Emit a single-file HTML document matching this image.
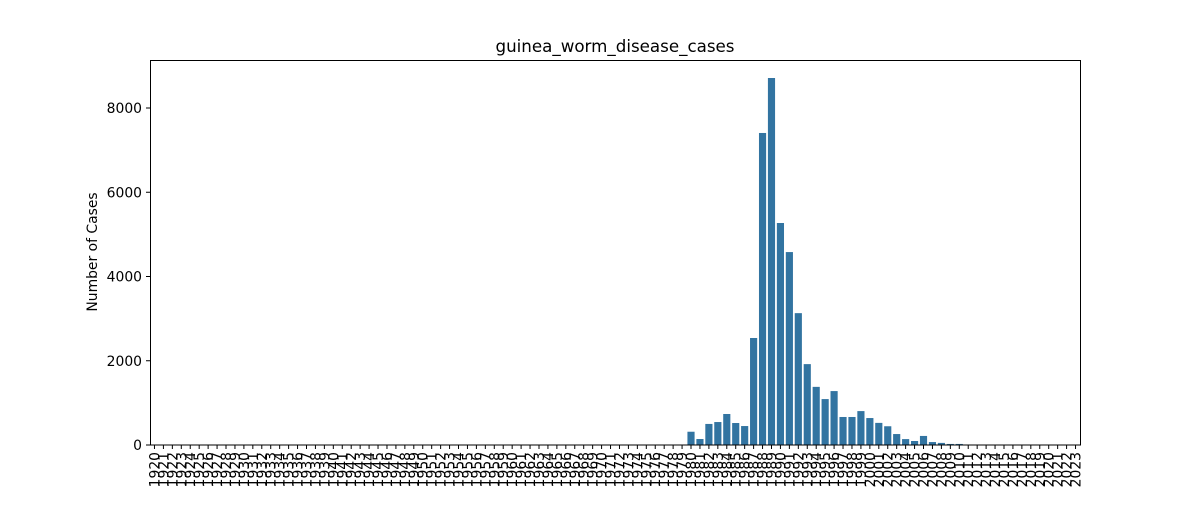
<!DOCTYPE html>
<html><head><meta charset="utf-8"><style>
body{margin:0;background:#fff;}
svg text{font-family:"DejaVu Sans","Liberation Sans",sans-serif;fill:#000;}
</style></head><body>
<svg id="chart" width="1200" height="500">
<text x="615" y="52" font-size="16.7" text-anchor="middle">guinea_worm_disease_cases</text>
<text transform="translate(97,252) rotate(-90)" font-size="13.9" text-anchor="middle">Number of Cases</text>
<g id="bars"></g><g id="axes"></g>
<rect x="150.5" y="60.5" width="930" height="384.5" fill="none" stroke="#000" stroke-width="1"/>
</svg>
<script>
const years = [];
for (let y = 1920; y <= 2023; y++) years.push(y);
const dataYears = [1980,1981,1982,1983,1984,1985,1986,1987,1988,1989,1990,1991,1992,1993,1994,1995,1996,1997,1998,1999,2000,2001,2002,2003,2004,2005,2006,2007,2008,2009,2010];
const cases = [315,142,500,545,736,522,450,2540,7407,8712,5270,4580,3130,1920,1380,1090,1280,665,665,805,640,525,445,260,140,95,215,70,50,25,25];
const yTicks = [0,2000,4000,6000,8000];
const NS='http://www.w3.org/2000/svg';
const L=150,R=1080,B=445,step=(R-L)/years.length;
const xC=i=>L+(i+0.5)*step;
const yS=v=>B-v*337/8000;
const bars=document.getElementById('bars'),axes=document.getElementById('axes');
dataYears.forEach((yr,k)=>{
  const i=years.indexOf(yr);
  const r=document.createElementNS(NS,'rect');
  r.setAttribute('x',xC(i)-step*0.4);r.setAttribute('width',step*0.8);
  r.setAttribute('y',yS(cases[k]));r.setAttribute('height',B-yS(cases[k]));
  r.setAttribute('fill','#3274a1');
  
  
  bars.appendChild(r);
});
yTicks.forEach(v=>{
  const l=document.createElementNS(NS,'line');
  l.setAttribute('x1',146);l.setAttribute('x2',150);l.setAttribute('y1',yS(v));l.setAttribute('y2',yS(v));l.setAttribute('stroke','#000');
  
  
  axes.appendChild(l);
  const t=document.createElementNS(NS,'text');
  t.setAttribute('x',142);t.setAttribute('y',yS(v)+5);t.setAttribute('font-size','13.9');t.setAttribute('text-anchor','end');
  t.textContent=v;
  
  
  axes.appendChild(t);
});
years.forEach((yr,i)=>{
  const x=xC(i);
  const l=document.createElementNS(NS,'line');
  l.setAttribute('x1',x);l.setAttribute('x2',x);l.setAttribute('y1',445);l.setAttribute('y2',449);l.setAttribute('stroke','#000');
  
  
  axes.appendChild(l);
  const t=document.createElementNS(NS,'text');
  t.setAttribute('transform','translate('+(x+5)+',452) rotate(-90)');
  t.setAttribute('font-size','13.9');t.setAttribute('text-anchor','end');
  t.textContent=yr;
  
  
  axes.appendChild(t);
});
</script>
</body></html>
